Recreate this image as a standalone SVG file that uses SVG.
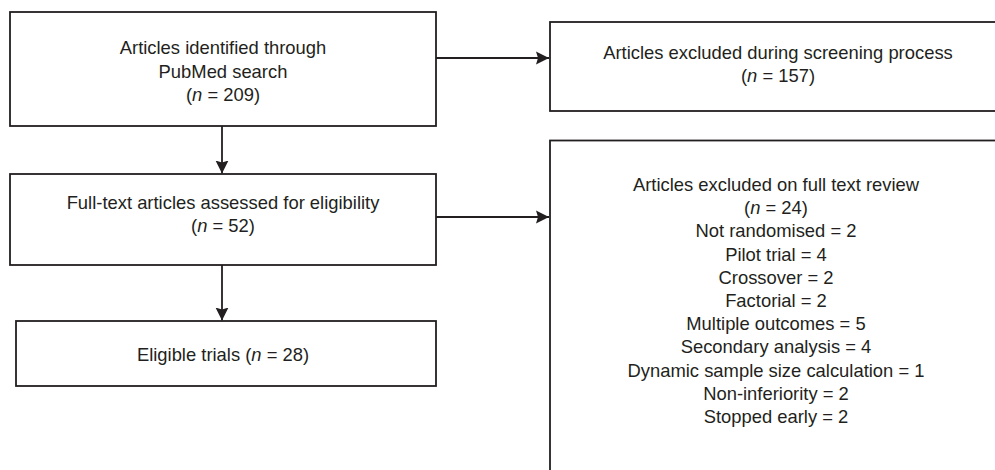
<svg xmlns="http://www.w3.org/2000/svg" width="995" height="470" viewBox="0 0 995 470">
<defs>
<style>
.box{fill:#fff;stroke:#231f20;stroke-width:1.8}
.t{font-family:"Liberation Sans",Arial,sans-serif;font-size:18.4px;fill:#231f20;text-anchor:middle}
.conn{stroke:#231f20;stroke-width:1.8;fill:none}
</style>
<marker id="ah" markerUnits="userSpaceOnUse" markerWidth="14" markerHeight="14" viewBox="0 0 14 14" refX="13" refY="7" orient="auto">
<path d="M0,0.5 L13,7 L0,13.5 L2,7 Z" fill="#231f20"/>
</marker>
</defs>
<rect width="995" height="470" fill="#fff"/>
<g id="connectors">
<line class="conn" x1="436" y1="58" x2="549" y2="58" marker-end="url(#ah)"/>
<line class="conn" x1="436" y1="217" x2="549" y2="217" marker-end="url(#ah)"/>
<line class="conn" x1="222" y1="126" x2="222" y2="173.5" marker-end="url(#ah)"/>
<line class="conn" x1="222" y1="265" x2="222" y2="320.5" marker-end="url(#ah)"/>
</g>
<g id="identified">
<rect class="box" x="10" y="12" width="426" height="114"/>
<text class="t" x="223" y="54">Articles identified through</text>
<text class="t" x="223" y="77.5">PubMed search</text>
<text class="t" x="223" y="101">(<tspan font-style="italic">n</tspan> = 209)</text>
</g>
<g id="fulltext">
<rect class="box" x="10" y="174" width="426" height="91"/>
<text class="t" x="223" y="209">Full-text articles assessed for eligibility</text>
<text class="t" x="223" y="232">(<tspan font-style="italic">n</tspan> = 52)</text>
</g>
<g id="eligible">
<rect class="box" x="16" y="321" width="420" height="65"/>
<text class="t" x="223" y="361">Eligible trials (<tspan font-style="italic">n</tspan> = 28)</text>
</g>
<g id="excluded-screening">
<rect class="box" x="550" y="22" width="460" height="89"/>
<text class="t" x="778" y="59">Articles excluded during screening process</text>
<text class="t" x="778" y="82">(<tspan font-style="italic">n</tspan> = 157)</text>
</g>
<g id="excluded-fulltext">
<rect class="box" x="550" y="140.5" width="460" height="340"/>
<text class="t" x="776" y="191">Articles excluded on full text review</text>
<text class="t" x="776" y="214.2">(<tspan font-style="italic">n</tspan> = 24)</text>
<text class="t" x="776" y="237.4">Not randomised = 2</text>
<text class="t" x="776" y="260.6">Pilot trial = 4</text>
<text class="t" x="776" y="283.8">Crossover = 2</text>
<text class="t" x="776" y="307">Factorial = 2</text>
<text class="t" x="776" y="330.2">Multiple outcomes = 5</text>
<text class="t" x="776" y="353.4">Secondary analysis = 4</text>
<text class="t" x="776" y="376.6">Dynamic sample size calculation = 1</text>
<text class="t" x="776" y="399.8">Non-inferiority = 2</text>
<text class="t" x="776" y="423">Stopped early = 2</text>
</g>
</svg>
